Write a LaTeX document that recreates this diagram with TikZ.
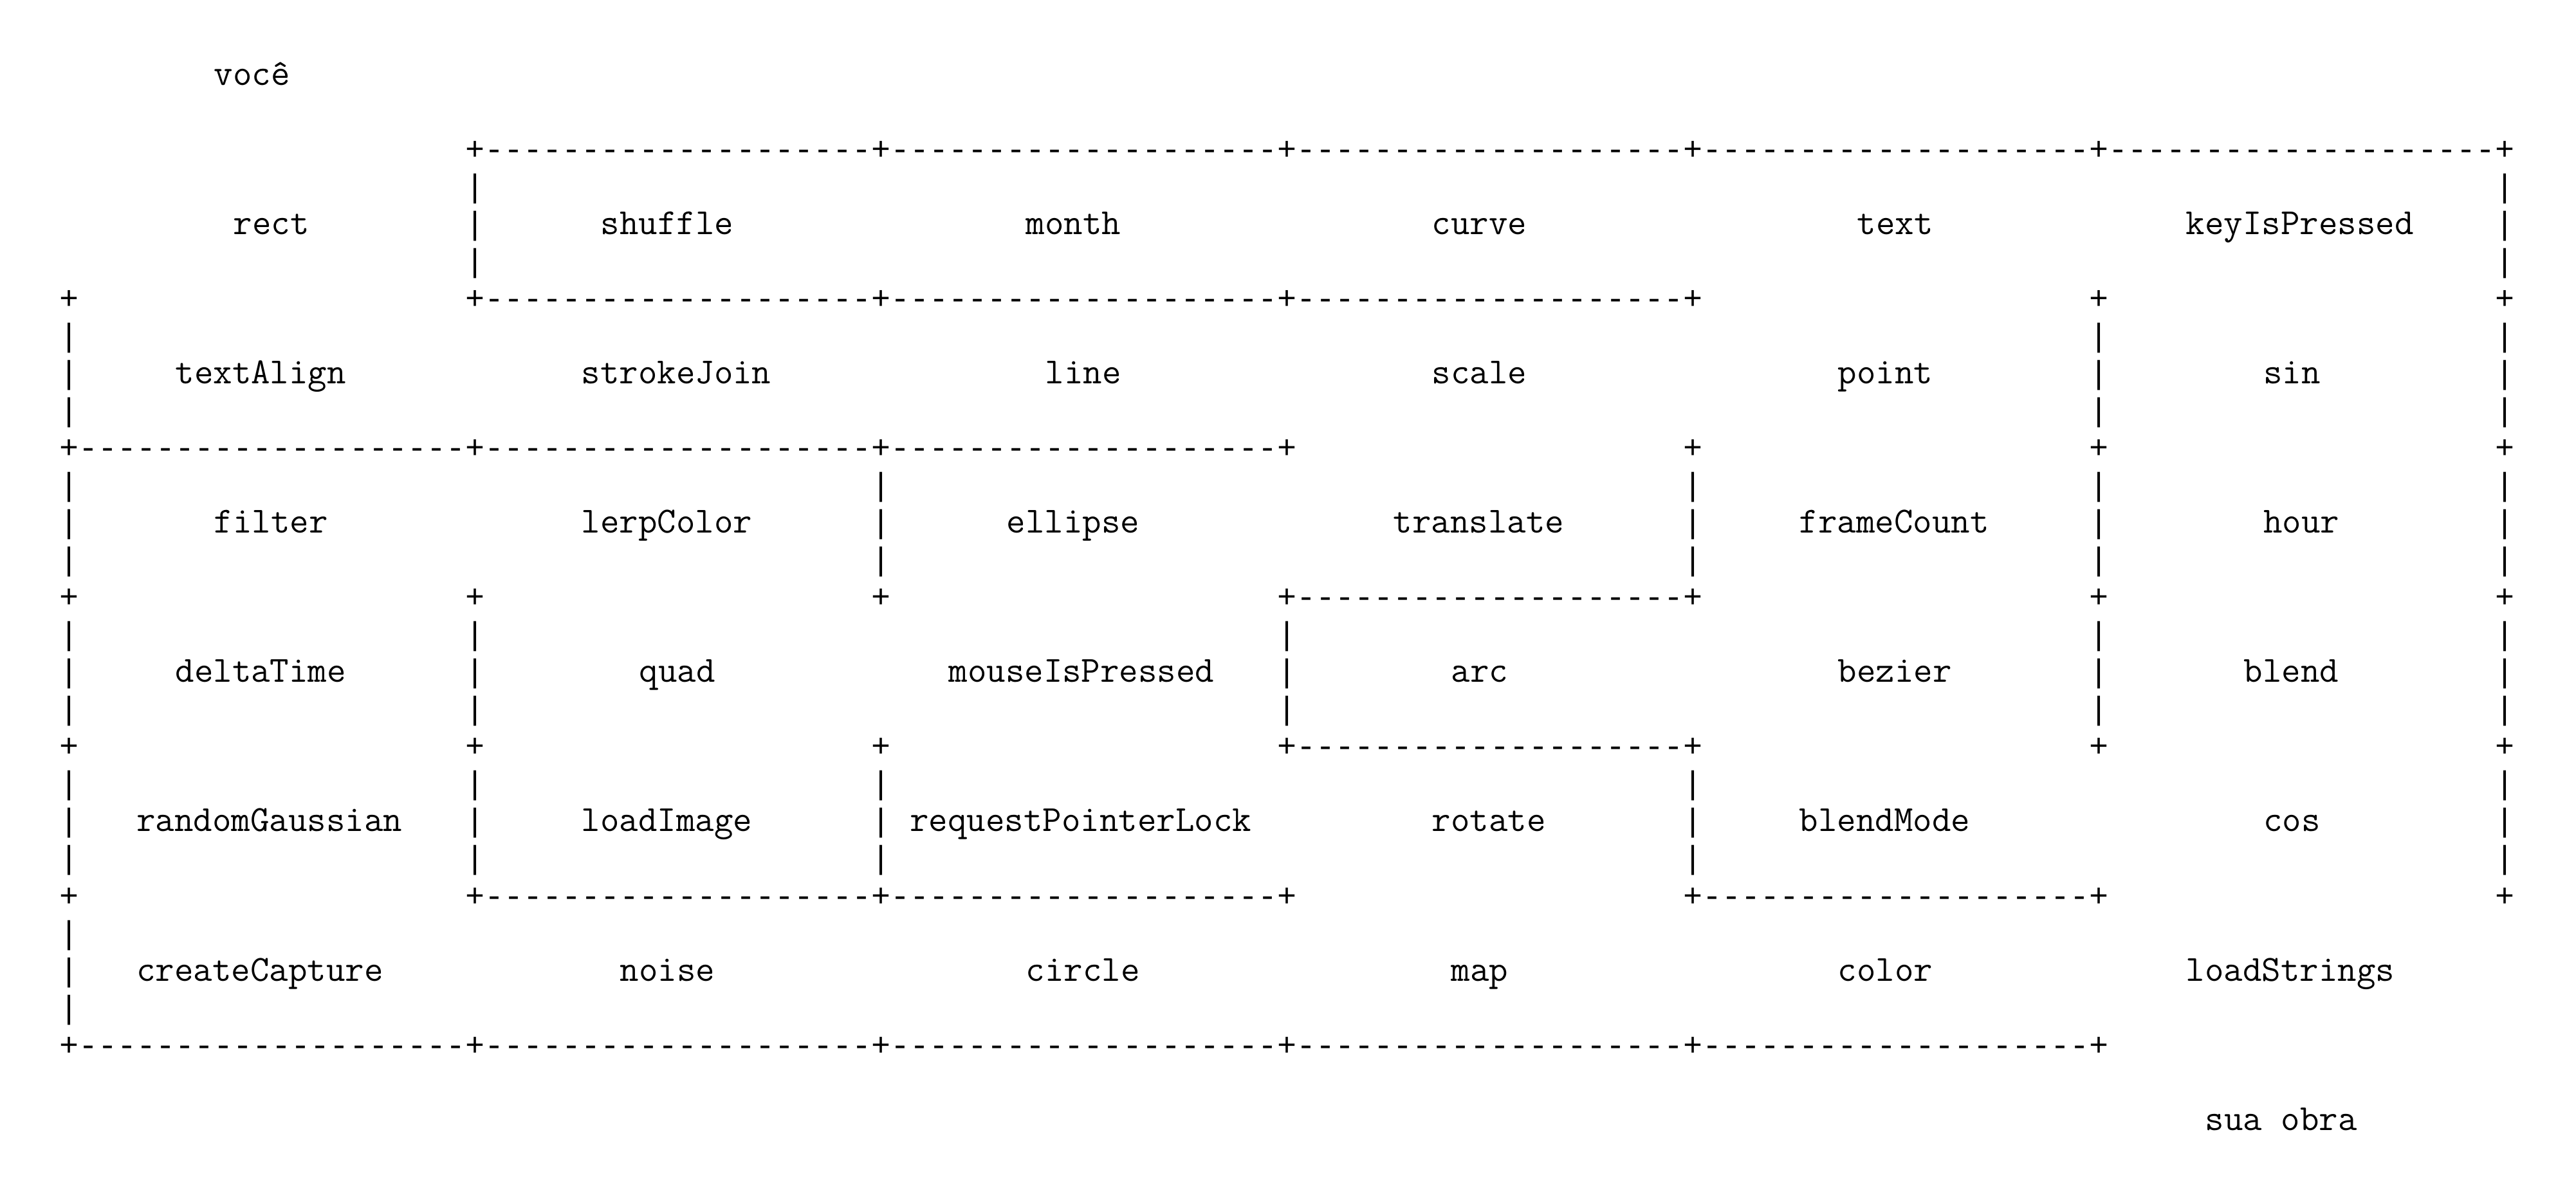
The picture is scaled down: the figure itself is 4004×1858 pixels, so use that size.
\documentclass[tikz,border=0pt]{standalone}
\usepackage{fontspec}
\newfontfamily\wallface{Liberation Mono}
\def\hy{\hbox{-}}
\def\dashrun{\hy\hy\hy\hy\hy\hy\hy\hy\hy\hy\hy\hy\hy\hy\hy\hy\hy\hy\hy\hy}
\tikzset{
  ch/.style={font={\wallface\fontsize{12.52pt}{14pt}\selectfont}, anchor=base west, inner sep=0pt, outer sep=0pt, text=black},
  word/.style={font={\ttfamily\fontsize{14.31pt}{16pt}\selectfont}, anchor=base west, inner sep=0pt, outer sep=0pt, text=black},
}
\begin{document}
\begin{tikzpicture}[x=0.25pt,y=-0.25pt]
\useasboundingbox (0,0) rectangle (4004,1858);
\fill[white] (0,0) rectangle (4004,1858);
% corners
\foreach \l/\ps in {2/{1,2,3,4,5,6},6/{0,1,2,3,4,5,6},10/{0,1,2,3,4,5,6},14/{0,1,2,3,4,5,6},18/{0,1,2,3,4,5,6},22/{0,1,2,3,4,5,6},26/{0,1,2,3,4,5}}{
  \foreach \p in \ps {
    \node[ch] (k\l-\p) at ({92.3+30.05*21*\p},{133+58*\l}) {+};
  }
}
% horizontal walls
\foreach \l/\ps in {2/{1,2,3,4,5},6/{1,2,3},10/{0,1,2},14/{3},18/{3},22/{1,2,4},26/{0,1,2,3,4}}{
  \foreach \p in \ps {
    \node[ch] (h\l-\p) at ({92.3+30.05*(21*\p+1)},{133+58*\l}) {\dashrun};
  }
}
% vertical walls
\foreach \r/\ps in {0/{1,6},1/{0,5,6},2/{0,2,4,5,6},3/{0,1,3,5,6},4/{0,1,2,4,6},5/{0}}{
  \foreach \p in \ps {
    \foreach \k in {3,4,5} {
      \node[ch] (v\r-\p-\k) at ({92.3+30.05*21*\p},{133+58*(4*\r+\k)}) {|};
    }
  }
}
% labels
\foreach \nm/\c/\l in {rect/9/4,shuffle/28/4,month/50/4,curve/71/4,text/93/4,keyIsPressed/110/4,
  textAlign/6/8,strokeJoin/27/8,line/51/8,scale/71/8,point/92/8,sin/114/8,
  filter/8/12,lerpColor/27/12,ellipse/49/12,translate/69/12,frameCount/90/12,hour/114/12,
  deltaTime/6/16,quad/30/16,mouseIsPressed/46/16,arc/72/16,bezier/92/16,blend/113/16,
  randomGaussian/4/20,loadImage/27/20,requestPointerLock/44/20,rotate/71/20,blendMode/90/20,cos/114/20,
  createCapture/4/24,noise/29/24,circle/50/24,map/72/24,color/92/24,loadStrings/110/24}{
  \node[word] (n-\nm) at ({92.3+30.05*\c},{133+58*\l}) {\nm};
}
\node[word] (start) at ({92.3+30.05*8},{133}) {você};
\node[word] (finish) at ({92.3+30.05*111},{133+58*28}) {sua obra};
\end{tikzpicture}
\end{document}
